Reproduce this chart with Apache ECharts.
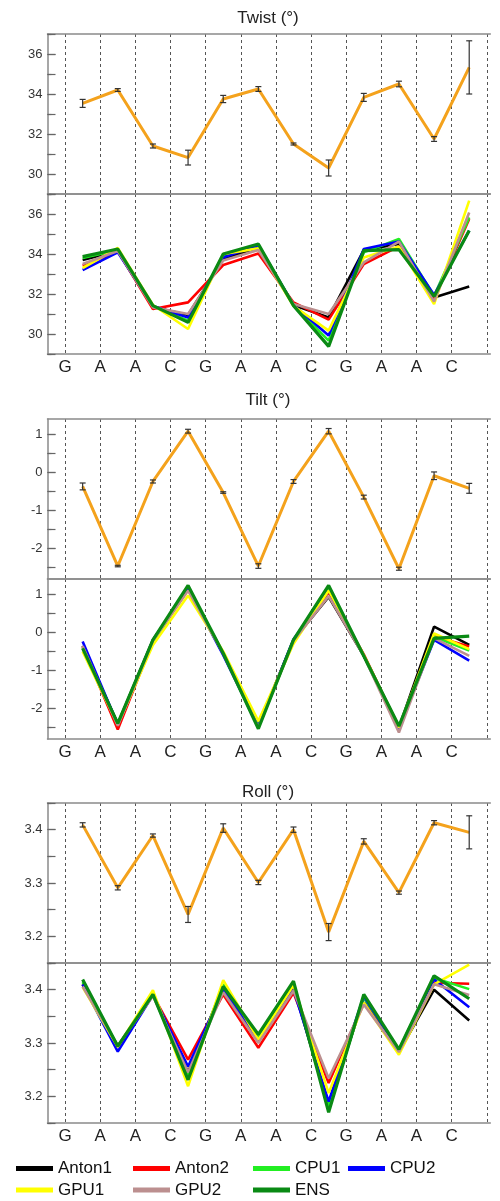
<!DOCTYPE html>
<html>
<head>
<meta charset="utf-8">
<script src="https://cdn.jsdelivr.net/npm/echarts@6/dist/echarts.min.js"></script>
<style>
  html, body { margin: 0; padding: 0; background: #fff; }
  #chart { width: 500px; height: 1201px; }
</style>
</head>
<body>
<div id="chart"></div>
<script>
// === Séquence et positions sur l'axe x ===
const bases = ['G', 'A', 'A', 'C', 'G', 'A', 'A', 'C', 'G', 'A', 'A', 'C'];
const basePos = [0.5, 1.5, 2.5, 3.5, 4.5, 5.5, 6.5, 7.5, 8.5, 9.5, 10.5, 11.5];
const gridLinePos = [0.5, 1.5, 2.5, 3.5, 4.5, 5.5, 6.5, 7.5, 8.5, 9.5, 10.5, 11.5, 12.5];
const stepPos = [1, 2, 3, 4, 5, 6, 7, 8, 9, 10, 11, 12];

const runNames = ['Anton1', 'Anton2', 'CPU1', 'CPU2', 'GPU1', 'GPU2', 'ENS'];
const runColors = ['#000000', '#ff0000', '#22ee22', '#0000ff', '#ffff00', '#bc8f8f', '#0a8a14'];

// === Twist ===
const twistTicks = [30, 32, 34, 36];
const twistMinor = [29, 31, 33, 35, 37];
const twistMean = [33.53, 34.2, 31.4, 30.82, 33.75, 34.25, 31.5, 30.3, 33.83, 34.5, 31.75, 35.33];
const twistErr = [0.2, 0.07, 0.1, 0.37, 0.18, 0.12, 0.05, 0.4, 0.2, 0.14, 0.12, 1.33];
const twistAnton1 = [33.7, 34.15, 31.35, 30.95, 33.75, 34.33, 31.45, 30.83, 34.2, 34.5, 31.83, 32.37];
const twistAnton2 = [33.42, 34.15, 31.25, 31.58, 33.45, 34.03, 31.58, 30.72, 33.5, 34.38, 31.75, 35.75];
const twistCPU1 = [33.8, 34.2, 31.4, 30.67, 33.92, 34.42, 31.45, 29.67, 34.08, 34.75, 31.9, 35.83];
const twistCPU2 = [33.2, 34.08, 31.4, 30.83, 33.83, 34.45, 31.45, 29.92, 34.25, 34.62, 31.95, 35.17];
const twistGPU1 = [33.3, 34.3, 31.45, 30.25, 34.0, 34.28, 31.4, 30.17, 33.83, 34.37, 31.5, 36.67];
const twistGPU2 = [33.5, 34.15, 31.33, 31.0, 33.67, 34.2, 31.5, 31.0, 33.58, 34.62, 31.62, 36.08];
const twistENS = [33.87, 34.25, 31.42, 30.58, 34.0, 34.5, 31.42, 29.38, 34.17, 34.22, 31.88, 35.17];

// === Tilt ===
const tiltTicks = [-2, -1, 0, 1];
const tiltMinor = [-2.5, -1.5, -0.5, 0.5];
const tiltMean = [-0.37, -2.46, -0.24, 1.08, -0.53, -2.46, -0.24, 1.08, -0.65, -2.53, -0.09, -0.42];
const tiltErr = [0.09, 0.02, 0.04, 0.05, 0.02, 0.06, 0.05, 0.07, 0.05, 0.04, 0.1, 0.13];
const tiltAnton1 = [-0.35, -2.4, -0.2, 1.15, -0.55, -2.45, -0.2, 0.93, -0.62, -2.5, 0.15, -0.33];
const tiltAnton2 = [-0.38, -2.55, -0.22, 1.12, -0.55, -2.45, -0.22, 1.05, -0.58, -2.5, -0.1, -0.37];
const tiltCPU1 = [-0.4, -2.42, -0.28, 1.19, -0.55, -2.45, -0.24, 1.15, -0.62, -2.5, -0.12, -0.48];
const tiltCPU2 = [-0.24, -2.42, -0.2, 1.15, -0.6, -2.48, -0.18, 1.1, -0.62, -2.52, -0.2, -0.74];
const tiltGPU1 = [-0.5, -2.42, -0.33, 0.97, -0.5, -2.33, -0.3, 1.1, -0.6, -2.5, -0.03, -0.44];
const tiltGPU2 = [-0.36, -2.45, -0.22, 1.1, -0.55, -2.5, -0.22, 0.95, -0.62, -2.63, -0.15, -0.62];
const tiltENS = [-0.42, -2.39, -0.2, 1.23, -0.55, -2.53, -0.2, 1.23, -0.62, -2.46, -0.16, -0.1];

// === Roll ===
const rollTicks = [3.2, 3.3, 3.4];
const rollMinor = [3.15, 3.25, 3.35, 3.45];
const rollMean = [3.409, 3.291, 3.389, 3.241, 3.403, 3.301, 3.4, 3.208, 3.378, 3.282, 3.413, 3.395];
const rollErr = [0.004, 0.004, 0.003, 0.015, 0.008, 0.004, 0.005, 0.016, 0.005, 0.003, 0.004, 0.031];
const rollAnton1 = [3.41, 3.293, 3.39, 3.245, 3.405, 3.305, 3.405, 3.18, 3.385, 3.283, 3.4, 3.342];
const rollAnton2 = [3.41, 3.294, 3.39, 3.269, 3.391, 3.291, 3.394, 3.225, 3.375, 3.285, 3.413, 3.411];
const rollCPU1 = [3.414, 3.294, 3.392, 3.237, 3.41, 3.311, 3.413, 3.18, 3.385, 3.288, 3.422, 3.401];
const rollCPU2 = [3.41, 3.284, 3.39, 3.256, 3.4, 3.306, 3.4, 3.19, 3.388, 3.285, 3.419, 3.367];
const rollGPU1 = [3.405, 3.293, 3.399, 3.219, 3.418, 3.306, 3.408, 3.206, 3.375, 3.278, 3.41, 3.447];
const rollGPU2 = [3.406, 3.295, 3.388, 3.245, 3.395, 3.3, 3.398, 3.234, 3.372, 3.283, 3.41, 3.39];
const rollENS = [3.419, 3.294, 3.391, 3.231, 3.406, 3.316, 3.416, 3.17, 3.391, 3.288, 3.426, 3.383];

// === Mise en page des panneaux ===
const panels = [
    { title: 'Twist (°)', titleY: 18, tops: [34, 194], min: 29, max: 37,
      ticks: twistTicks, minor: twistMinor, mean: twistMean, err: twistErr,
      runs: [twistAnton1, twistAnton2, twistCPU1, twistCPU2, twistGPU1, twistGPU2, twistENS] },
    { title: 'Tilt (°)', titleY: 400, tops: [419, 579], min: -2.8, max: 1.4,
      ticks: tiltTicks, minor: tiltMinor, mean: tiltMean, err: tiltErr,
      runs: [tiltAnton1, tiltAnton2, tiltCPU1, tiltCPU2, tiltGPU1, tiltGPU2, tiltENS] },
    { title: 'Roll (°)', titleY: 792, tops: [803, 963], min: 3.15, max: 3.45,
      ticks: rollTicks, minor: rollMinor, mean: rollMean, err: rollErr,
      runs: [rollAnton1, rollAnton2, rollCPU1, rollCPU2, rollGPU1, rollGPU2, rollENS] }
];

const FRAME = '#8a8a8a';
const TICK = '#666';
const grid = [], xAxis = [], yAxis = [], series = [], graphic = [];

function ajouterGrille(top, p, withLabels) {
    const gi = grid.length;
    grid.push({ left: 47.5, top: top, width: 442.8, height: 160, show: false });

    // axe x principal : lignes pointillées + lettres
    xAxis.push({
        gridIndex: gi, type: 'value', min: 0, max: 12.6, position: 'bottom',
        axisLine: { show: true, onZero: false, lineStyle: { color: FRAME, width: 1.5 } },
        axisTick: { show: false, customValues: gridLinePos },
        splitLine: { show: true, lineStyle: { color: '#555', width: 1, type: [3, 3] } },
        axisLabel: {
            show: withLabels, customValues: basePos, margin: 5,
            fontSize: 17, color: '#222', fontFamily: 'Liberation Sans',
            formatter: v => bases[Math.round(v - 0.5)] || ''
        }
    });
    // bord supérieur
    xAxis.push({
        gridIndex: gi, type: 'value', min: 0, max: 12.6, position: 'top',
        axisLine: { show: true, onZero: false, lineStyle: { color: FRAME, width: 1.5 } },
        axisTick: { show: false }, axisLabel: { show: false }, splitLine: { show: false }
    });

    const base = { gridIndex: gi, type: 'value', min: p.min, max: p.max, splitLine: { show: false } };
    yAxis.push(Object.assign({}, base, {
        position: 'left',
        axisLine: { show: true, onZero: false, lineStyle: { color: FRAME, width: 1.5 } },
        axisTick: { show: true, inside: true, length: 8, customValues: p.ticks, lineStyle: { color: TICK, width: 1.2 } },
        axisLabel: { show: true, customValues: p.ticks, margin: 5, fontSize: 13, color: '#333', fontFamily: 'Liberation Sans' }
    }));
    yAxis.push(Object.assign({}, base, {
        position: 'left',
        axisLine: { show: false },
        axisTick: { show: true, inside: true, length: 4, customValues: p.minor, lineStyle: { color: TICK, width: 1.2 } },
        axisLabel: { show: false }
    }));
    yAxis.push(Object.assign({}, base, {
        position: 'right', offset: 4,
        axisLine: { show: false },
        axisTick: { show: true, inside: false, length: 8, customValues: p.ticks.concat(p.minor), lineStyle: { color: TICK, width: 1.2 } },
        axisLabel: { show: false }
    }));
    return gi;
}

panels.forEach(p => {
    graphic.push({
        type: 'text', x: 268, y: p.titleY,
        style: { text: p.title, fontSize: 17, fill: '#222', fontFamily: 'Liberation Sans', align: 'center', verticalAlign: 'middle' }
    });

    // panneau du haut : moyenne + barres d'erreur
    const g1 = ajouterGrille(p.tops[0], p, false);
    series.push({
        name: 'mean', type: 'line', xAxisIndex: 2 * g1, yAxisIndex: 3 * g1,
        data: stepPos.map((x, i) => [x, p.mean[i]]),
        symbol: 'none', lineStyle: { color: '#f4a21c', width: 3 }, z: 2
    });
    series.push({
        name: 'err', type: 'custom', xAxisIndex: 2 * g1, yAxisIndex: 3 * g1,
        data: stepPos.map((x, i) => [x, p.mean[i] - p.err[i], p.mean[i] + p.err[i]]),
        encode: { x: 0, y: [1, 2] }, z: 3,
        renderItem: (params, api) => {
            const lo = api.coord([api.value(0), api.value(1)]);
            const hi = api.coord([api.value(0), api.value(2)]);
            const st = { stroke: '#333', lineWidth: 1.2 };
            return {
                type: 'group',
                children: [
                    { type: 'line', shape: { x1: lo[0], y1: lo[1], x2: hi[0], y2: hi[1] }, style: st },
                    { type: 'line', shape: { x1: lo[0] - 3, y1: lo[1], x2: lo[0] + 3, y2: lo[1] }, style: st },
                    { type: 'line', shape: { x1: hi[0] - 3, y1: hi[1], x2: hi[0] + 3, y2: hi[1] }, style: st }
                ]
            };
        }
    });

    // panneau du bas : les différentes simulations
    const g2 = ajouterGrille(p.tops[1], p, true);
    p.runs.forEach((vals, k) => {
        series.push({
            name: runNames[k], type: 'line', xAxisIndex: 2 * g2, yAxisIndex: 3 * g2,
            data: stepPos.map((x, i) => [x, vals[i]]),
            symbol: 'none', color: runColors[k],
            lineStyle: { color: runColors[k], width: runNames[k] === 'ENS' ? 3.2 : 2.6 }
        });
    });
});

// === Légende en colonnes ===
const legendCols = [
    { left: 16, data: ['Anton1', 'GPU1'] },
    { left: 133, data: ['Anton2', 'GPU2'] },
    { left: 253, data: ['CPU1', 'ENS'] },
    { left: 348, data: ['CPU2'] }
];
const legend = legendCols.map(c => ({
    left: c.left, top: 1160, orient: 'vertical', data: c.data,
    icon: 'rect', itemWidth: 37, itemHeight: 5, itemGap: 4.5, padding: 0,
    selectedMode: false,
    textStyle: { fontSize: 17, color: '#111', fontFamily: 'Liberation Sans', padding: [0, 0, 0, 0] }
}));

const myChart = echarts.init(document.getElementById('chart'));
myChart.setOption({
    animation: false,
    grid, xAxis, yAxis, series, legend, graphic
});
</script>
</body>
</html>
